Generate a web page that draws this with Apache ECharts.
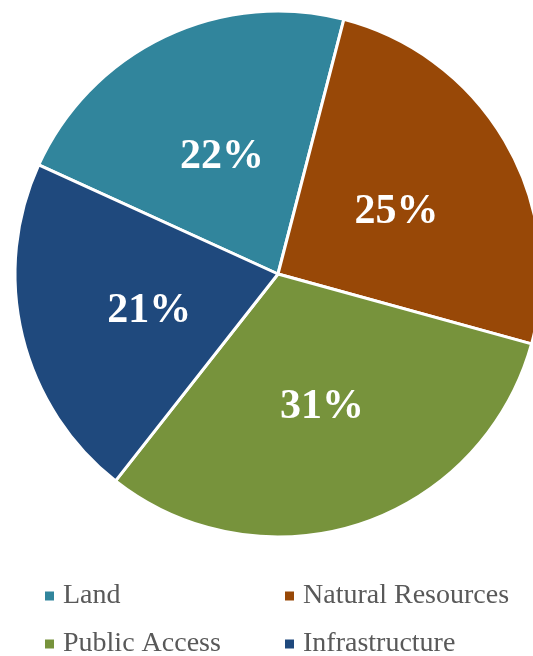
<!DOCTYPE html>
<html>
<head>
<meta charset="utf-8">
<script src="https://cdn.jsdelivr.net/npm/echarts@6/dist/echarts.min.js"></script>
<style>
  html, body { margin: 0; padding: 0; background: #ffffff; }
  #chart { width: 533px; height: 656px; }
</style>
</head>
<body>
<div id="chart"></div>
<script>
// Share of funding by category (percent)
const categories = ['Land', 'Natural Resources', 'Public Access', 'Infrastructure'];
const shares = [22, 25, 31, 21];
const colors = ['#31859C', '#984807', '#77933C', '#1F497D'];

const serif = '"Liberation Serif", "Times New Roman", serif';

const chart = echarts.init(document.getElementById('chart'));

// Legend laid out as a 2x2 grid: one legend entry per cell
const legendColumns = [43, 283];
const legendRows = [582, 630];

const legends = categories.map((name, i) => ({
  orient: 'horizontal',
  left: legendColumns[i % 2],
  top: legendRows[Math.floor(i / 2)],
  padding: 0,
  itemWidth: 11,
  itemHeight: 11,
  icon: 'rect',
  data: [name],
  textStyle: {
    fontFamily: serif,
    fontSize: 28,
    lineHeight: 28,
    color: '#595959',
    padding: [0, 0, 0, 3]
  }
}));

chart.setOption({
  animation: false,
  color: colors,
  legend: legends,
  series: [{
    type: 'pie',
    center: [278, 274],
    radius: [0, 263],
    startAngle: 155.5,
    clockwise: true,
    avoidLabelOverlap: false,
    itemStyle: { borderColor: '#ffffff', borderWidth: 3 },
    label: {
      show: true,
      position: 'inside',
      formatter: '{c}%',
      fontFamily: serif,
      fontWeight: 'bold',
      fontSize: 42,
      color: '#ffffff',
      offset: [2, 5]
    },
    labelLine: { show: false },
    emphasis: { disabled: true },
    data: categories.map((name, i) => ({ name: name, value: shares[i] }))
  }]
});
</script>
</body>
</html>
